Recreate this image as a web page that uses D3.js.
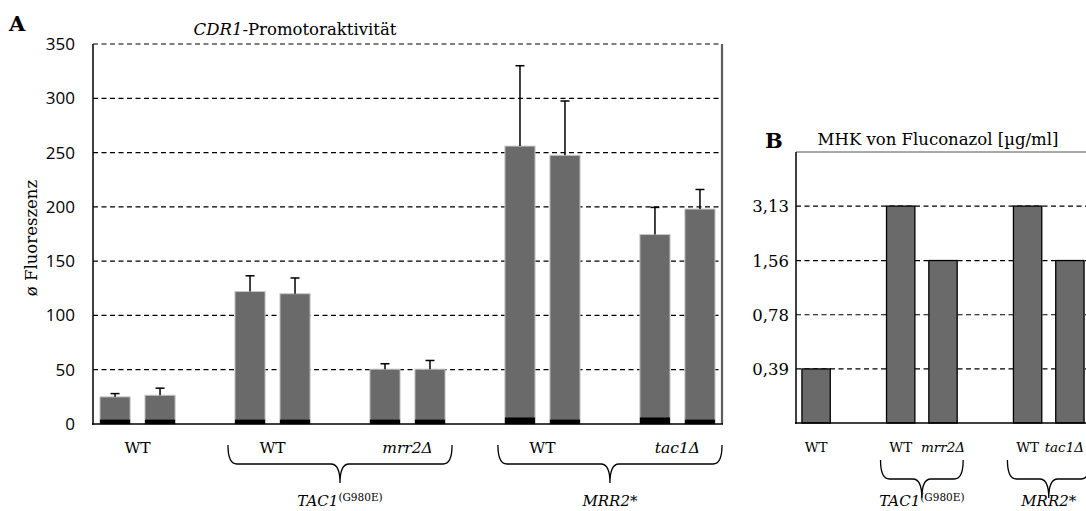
<!DOCTYPE html>
<html>
<head>
<meta charset="utf-8">
<script src="https://cdn.jsdelivr.net/npm/d3@7"></script>
<style>
  body { margin: 0; background: #fff; }
  text { fill: #000; }
  .serif { font-family: "DejaVu Serif", serif; }
  .sans { font-family: "Open Sans", sans-serif; }
</style>
</head>
<body>
<div id="chart"></div>
<script>
// Panel A data: CDR1 promoter activity
var slotsA = [0, 1, 3, 4, 6, 7, 9, 10, 12, 13];
var valuesA = [25, 26.5, 122, 120, 50.5, 50.5, 256, 247.5, 174.5, 198];
var baseA = [4, 4, 4, 4, 4, 4, 6, 4, 6, 4];
var errA = [3, 6.5, 14.5, 14.5, 5, 8, 74, 50, 25, 18];
var ticksA = [0, 50, 100, 150, 200, 250, 300, 350];
var labelsA = [
  { text: "WT", italic: false, slots: [0, 1] },
  { text: "WT", italic: false, slots: [3, 4] },
  { text: "mrr2Δ", italic: true, slots: [6, 7] },
  { text: "WT", italic: false, slots: [9, 10] },
  { text: "tac1Δ", italic: true, slots: [12, 13] }
];
var bracesA = [
  { main: "TAC1", sup: "(G980E)", from: 3, to: 7 },
  { main: "MRR2*", sup: "", from: 9, to: 13 }
];

// Panel B data: MIC of fluconazole
var slotsB = [0, 2, 3, 5, 6];
var valuesB = [0.39, 3.13, 1.56, 3.13, 1.56];
var ticksB = [0.39, 0.78, 1.56, 3.13];
var labelsB = [
  { text: "WT", italic: false, slot: 0 },
  { text: "WT", italic: false, slot: 2 },
  { text: "mrr2Δ", italic: true, slot: 3 },
  { text: "WT", italic: false, slot: 5 },
  { text: "tac1Δ", italic: true, slot: 6 }
];
var bracesB = [
  { main: "TAC1", sup: "(G980E)", from: 2, to: 3 },
  { main: "MRR2*", sup: "", from: 5, to: 6 }
];

var w = 1086, h = 511;
var svg = d3.select("#chart").append("svg")
  .attr("width", w).attr("height", h);

var barFill = "#6a6a6a";

// brace path: left end x0, right end x1, tip in the middle
function brace(x0, x1, y0) {
  var y1 = y0 + 19, yt = y0 + 38, q = 9;
  var xc = (x0 + x1) / 2;
  return "M" + x0 + "," + y0 +
    " Q" + x0 + "," + y1 + " " + (x0 + q) + "," + y1 +
    " L" + (xc - q) + "," + y1 +
    " Q" + xc + "," + y1 + " " + xc + "," + yt +
    " Q" + xc + "," + y1 + " " + (xc + q) + "," + y1 +
    " L" + (x1 - q) + "," + y1 +
    " Q" + x1 + "," + y1 + " " + x1 + "," + y0;
}

function braceLabel(g, x, y, d) {
  var t = g.append("text").attr("class", "serif")
    .attr("x", x).attr("y", y)
    .attr("text-anchor", "middle")
    .style("font-size", "15px");
  t.append("tspan").style("font-style", "italic").text(d.main);
  if (d.sup) {
    t.append("tspan").attr("dy", -5).style("font-size", "10.5px").text(d.sup);
  }
}

//////////////
// Panel A ///
//////////////
var xA = d3.scaleBand()
  .domain(d3.range(14))
  .range([93, 722])
  .paddingInner(0.33)
  .paddingOuter(0.155);

var yA = d3.scaleLinear()
  .domain([0, 350])
  .range([424, 44]);

var gA = svg.append("g");

// gridlines
gA.selectAll(".gridA")
  .data(ticksA.slice(1))
  .enter().append("line")
  .attr("x1", 93).attr("x2", 722)
  .attr("y1", function (d) { return yA(d); })
  .attr("y2", function (d) { return yA(d); })
  .style("stroke", "#000")
  .style("stroke-width", 1.2)
  .style("stroke-dasharray", "5,3.5");

// right border
gA.append("line")
  .attr("x1", 722).attr("x2", 722)
  .attr("y1", yA(350)).attr("y2", yA(0))
  .style("stroke", "#bbb").style("stroke-width", 2.5);
gA.append("line")
  .attr("x1", 722).attr("x2", 722)
  .attr("y1", yA(350)).attr("y2", yA(0))
  .style("stroke", "#000").style("stroke-width", 1);

// gray bars
gA.selectAll(".barA")
  .data(valuesA)
  .enter().append("rect")
  .attr("x", function (d, i) { return xA(slotsA[i]); })
  .attr("y", function (d) { return yA(d); })
  .attr("width", xA.bandwidth())
  .attr("height", function (d) { return yA(0) - yA(d); })
  .style("fill", barFill)
  .style("stroke", "#c8c8c8")
  .style("stroke-width", 1);

// black base segments
gA.selectAll(".baseA")
  .data(baseA)
  .enter().append("rect")
  .attr("x", function (d, i) { return xA(slotsA[i]); })
  .attr("y", function (d) { return yA(d); })
  .attr("width", xA.bandwidth())
  .attr("height", function (d) { return yA(0) - yA(d); })
  .style("fill", "#000");

// error bars
var eb = gA.selectAll(".errA")
  .data(valuesA)
  .enter().append("g");
eb.append("line")
  .attr("x1", function (d, i) { return xA(slotsA[i]) + xA.bandwidth() / 2; })
  .attr("x2", function (d, i) { return xA(slotsA[i]) + xA.bandwidth() / 2; })
  .attr("y1", function (d) { return yA(d); })
  .attr("y2", function (d, i) { return yA(d + errA[i]); })
  .style("stroke", "#000").style("stroke-width", 1.5);
eb.append("line")
  .attr("x1", function (d, i) { return xA(slotsA[i]) + xA.bandwidth() / 2 - 4.5; })
  .attr("x2", function (d, i) { return xA(slotsA[i]) + xA.bandwidth() / 2 + 4.5; })
  .attr("y1", function (d, i) { return yA(d + errA[i]); })
  .attr("y2", function (d, i) { return yA(d + errA[i]); })
  .style("stroke", "#000").style("stroke-width", 1.5);

// axes
gA.append("line")
  .attr("x1", 93).attr("x2", 93)
  .attr("y1", yA(350)).attr("y2", yA(0) + 1)
  .style("stroke", "#000").style("stroke-width", 1.5);
gA.append("line")
  .attr("x1", 92).attr("x2", 723)
  .attr("y1", yA(0)).attr("y2", yA(0))
  .style("stroke", "#000").style("stroke-width", 1.5);

gA.selectAll(".tickA")
  .data(ticksA)
  .enter().append("text")
  .attr("class", "sans")
  .attr("x", 75)
  .attr("y", function (d) { return yA(d) + 6; })
  .attr("text-anchor", "end")
  .style("font-size", "17px")
  .text(function (d) { return d; });

// axis title
gA.append("text")
  .attr("class", "serif")
  .attr("transform", "translate(37,238) rotate(-90)")
  .attr("text-anchor", "middle")
  .style("font-size", "16.5px")
  .text("ø Fluoreszenz");

// panel title
var tA = gA.append("text")
  .attr("class", "serif")
  .attr("x", 295).attr("y", 35)
  .attr("text-anchor", "middle")
  .style("font-size", "16.5px");
tA.append("tspan").style("font-style", "italic").text("CDR1");
tA.append("tspan").text("-Promotoraktivität");

gA.append("text")
  .attr("class", "serif")
  .attr("x", 9).attr("y", 31)
  .style("font-size", "21px").style("font-weight", "bold")
  .text("A");

// category labels
gA.selectAll(".labA")
  .data(labelsA)
  .enter().append("text")
  .attr("class", "serif")
  .attr("x", function (d) {
    return (xA(d.slots[0]) + xA(d.slots[1]) + xA.bandwidth()) / 2;
  })
  .attr("y", 453)
  .attr("text-anchor", "middle")
  .style("font-size", "15.5px")
  .style("font-style", function (d) { return d.italic ? "italic" : "normal"; })
  .text(function (d) { return d.text; });

bracesA.forEach(function (d) {
  var x0 = xA(d.from) - 7, x1 = xA(d.to) + xA.bandwidth() + 7;
  gA.append("path")
    .attr("d", brace(x0, x1, 445))
    .style("fill", "none").style("stroke", "#000").style("stroke-width", 1.3);
  braceLabel(gA, (x0 + x1) / 2, 506, d);
});

//////////////
// Panel B ///
//////////////
var xB = d3.scaleBand()
  .domain(d3.range(7))
  .range([796, 1090])
  .paddingInner(0.33)
  .paddingOuter(0.14);

var yB = d3.scaleLog()
  .base(2)
  .domain([0.1953125, 6.25])
  .range([423, 152]);

var gB = svg.append("g");

gB.selectAll(".gridB")
  .data(ticksB)
  .enter().append("line")
  .attr("x1", 796).attr("x2", 1090)
  .attr("y1", function (d) { return yB(d); })
  .attr("y2", function (d) { return yB(d); })
  .style("stroke", "#000")
  .style("stroke-width", 1.2)
  .style("stroke-dasharray", "5,3.5");

// top border
gB.append("line")
  .attr("x1", 796).attr("x2", 1090)
  .attr("y1", yB(6.25)).attr("y2", yB(6.25))
  .style("stroke", "#555").style("stroke-width", 1.2);

gB.selectAll(".barB")
  .data(valuesB)
  .enter().append("rect")
  .attr("x", function (d, i) { return xB(slotsB[i]); })
  .attr("y", function (d) { return yB(d); })
  .attr("width", xB.bandwidth())
  .attr("height", function (d) { return yB(0.1953125) - yB(d); })
  .style("fill", barFill)
  .style("stroke", "#000")
  .style("stroke-width", 1.3);

gB.append("line")
  .attr("x1", 796).attr("x2", 796)
  .attr("y1", yB(6.25)).attr("y2", yB(0.1953125) + 1)
  .style("stroke", "#000").style("stroke-width", 1.5);
gB.append("line")
  .attr("x1", 795).attr("x2", 1090)
  .attr("y1", yB(0.1953125)).attr("y2", yB(0.1953125))
  .style("stroke", "#000").style("stroke-width", 1.5);

gB.selectAll(".tickB")
  .data(ticksB)
  .enter().append("text")
  .attr("class", "serif")
  .attr("x", 789)
  .attr("y", function (d) { return yB(d) + 6; })
  .attr("text-anchor", "end")
  .style("font-size", "16.5px")
  .text(function (d) { return String(d).replace(".", ","); });

gB.append("text")
  .attr("class", "serif")
  .attr("x", 938).attr("y", 145)
  .attr("text-anchor", "middle")
  .style("font-size", "16.5px")
  .text("MHK von Fluconazol [µg/ml]");

gB.append("text")
  .attr("class", "serif")
  .attr("x", 765).attr("y", 148)
  .style("font-size", "21px").style("font-weight", "bold")
  .text("B");

gB.selectAll(".labB")
  .data(labelsB)
  .enter().append("text")
  .attr("class", "serif")
  .attr("x", function (d) { return xB(d.slot) + xB.bandwidth() / 2; })
  .attr("y", 452)
  .attr("text-anchor", "middle")
  .style("font-size", "13.5px")
  .style("font-style", function (d) { return d.italic ? "italic" : "normal"; })
  .text(function (d) { return d.text; })
  .each(function () {
    // keep labels inside the picture, the last one sits at the right edge
    var len = this.getComputedTextLength();
    var x = +this.getAttribute("x");
    if (x + len / 2 > w - 2) this.setAttribute("x", w - 2 - len / 2);
  });

bracesB.forEach(function (d) {
  var x0 = xB(d.from) - 6, x1 = xB(d.to) + xB.bandwidth() + 6;
  gB.append("path")
    .attr("d", brace(x0, x1, 460))
    .style("fill", "none").style("stroke", "#000").style("stroke-width", 1.3);
  braceLabel(gB, (x0 + x1) / 2, 506, d);
});
</script>
</body>
</html>
